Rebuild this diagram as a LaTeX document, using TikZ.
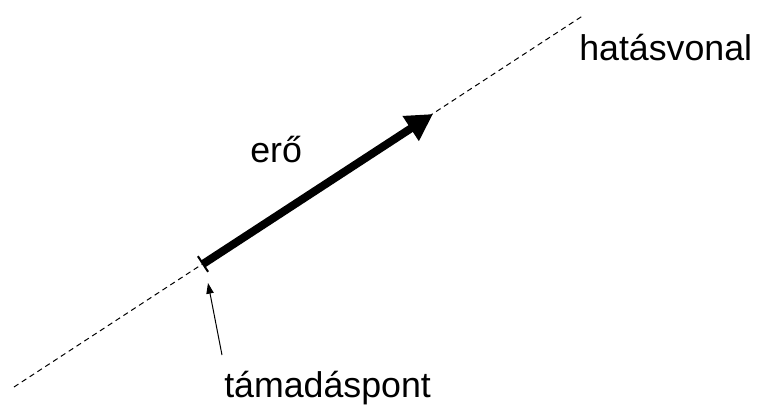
\documentclass[tikz,border=0pt]{standalone}
\usepackage{fontspec}
\setmainfont{Liberation Sans}
\usetikzlibrary{arrows.meta,calc}
\begin{document}
\begin{tikzpicture}[x=0.75pt,y=-0.75pt,
  lbl/.style={anchor=base west,inner sep=0pt,font=\fontsize{26.8}{32}\selectfont},
  actionline/.style={dashed,dash pattern=on 4pt off 3pt,line width=0.75pt},
  force/.style={line width=6pt,-{Triangle[length=20pt,width=21pt]}},
  pointer/.style={line width=0.75pt,-{Triangle[length=8pt,width=5.5pt]}}]
\useasboundingbox (0,0) rectangle (760,408);
\coordinate (ls) at (14,387);
\coordinate (le) at (584,15);
\coordinate (p) at (203,264);
\coordinate (tip) at (433,114);
\coordinate (ptail) at (222,355);
\coordinate (phead) at (208,283);
\draw[actionline] (ls) -- (le);
\draw[force] (p) -- (tip);
\draw[line width=1.5pt] ($(p)!7pt!90:(tip)$) -- ($(p)!7pt!-90:(tip)$);
\draw[pointer] (ptail) -- (phead);
\node[lbl] (hv) at (579,60) {hatásvonal};
\node[lbl] (ero) at (250,162) {erő};
\node[lbl] (tp) at (224,397) {támadáspont};
\end{tikzpicture}
\end{document}
